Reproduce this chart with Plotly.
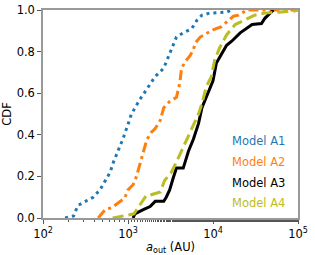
import plotly.graph_objects as go

# Model A1 (log10 a_out, CDF)
a1_log = [2.26, 2.36, 2.41, 2.51, 2.59, 2.67, 2.73, 2.79, 2.83, 2.89, 2.94, 3.00, 3.04, 3.14, 3.22, 3.32,
          3.42, 3.51, 3.57, 3.65, 3.75, 3.81, 3.87, 3.96, 4.16, 4.22]
a1_cdf = [0.0, 0.01, 0.06, 0.08, 0.10, 0.135, 0.175, 0.22, 0.27, 0.33, 0.38, 0.45, 0.50, 0.57, 0.62, 0.68,
          0.72, 0.81, 0.87, 0.89, 0.91, 0.95, 0.975, 0.985, 0.99, 1.0]

a2_log = [2.65, 2.73, 2.81, 2.91, 2.96, 3.00, 3.06, 3.10, 3.14, 3.18, 3.22, 3.27, 3.32, 3.38, 3.42, 3.49,
          3.57, 3.61, 3.63, 3.67, 3.73, 3.77, 3.79, 3.85, 3.93, 4.00, 4.10, 4.18, 4.24, 4.30, 4.40, 5.0]
a2_cdf = [0.0, 0.04, 0.05, 0.08, 0.095, 0.135, 0.16, 0.20, 0.26, 0.32, 0.375, 0.41, 0.43, 0.47, 0.53, 0.56,
          0.58, 0.65, 0.72, 0.75, 0.78, 0.81, 0.84, 0.87, 0.89, 0.905, 0.92, 0.95, 0.97, 0.975, 1.0, 1.0]

a3_log = [3.06, 3.08, 3.18, 3.26, 3.32, 3.42, 3.45, 3.49, 3.53, 3.57, 3.65, 3.71, 3.77, 3.83, 3.87, 3.94,
          4.00, 4.04, 4.10, 4.16, 4.22, 4.32, 4.46, 4.57, 4.61, 4.67, 4.71]
a3_cdf = [0.0, 0.02, 0.04, 0.055, 0.08, 0.08, 0.10, 0.135, 0.19, 0.24, 0.24, 0.32, 0.38, 0.455, 0.53, 0.60,
          0.66, 0.745, 0.79, 0.83, 0.85, 0.89, 0.93, 0.935, 0.96, 0.985, 1.0]

a4_log = [2.82, 3.07, 3.18, 3.22, 3.26, 3.38, 3.43, 3.51, 3.57, 3.65, 3.71, 3.77, 3.83, 3.87, 3.92, 3.98,
          4.02, 4.08, 4.16, 4.26, 4.36, 4.49, 4.61, 4.81, 4.96, 5.0]
a4_cdf = [0.0, 0.02, 0.087, 0.11, 0.11, 0.125, 0.18, 0.22, 0.27, 0.34, 0.39, 0.45, 0.50, 0.55, 0.63, 0.68,
          0.76, 0.82, 0.88, 0.93, 0.95, 0.975, 0.985, 0.99, 0.995, 1.0]

names = ["Model A1", "Model A2", "Model A3", "Model A4"]
colors = ["#1f77b4", "#ff7f0e", "#000000", "#bcbd22"]
dashes = ["3px,4px", "10px,4px,3px,4px", "solid", "11px,5px"]

xtick_vals = [1e2, 1e3, 1e4, 1e5]
xtick_text = ["10<sup>2</sup>", "10<sup>3</sup>", "10<sup>4</sup>", "10<sup>5</sup>"]
ytick_vals = [0.0, 0.2, 0.4, 0.6, 0.8, 1.0]
ytick_text = ["0.0", "0.2", "0.4", "0.6", "0.8", "1.0"]

fig = go.Figure()
for xs, ys, nm, c, d in zip([a1_log, a2_log, a3_log, a4_log], [a1_cdf, a2_cdf, a3_cdf, a4_cdf],
                            names, colors, dashes):
    fig.add_trace(go.Scatter(x=[10 ** v for v in xs], y=ys, mode="lines", name=nm,
                             line=dict(color=c, width=3, dash=d), showlegend=False))

for i, (nm, c) in enumerate(zip(names, colors)):
    fig.add_annotation(text=nm, x=0.955, y=0.37 - i * 0.1, xref="paper", yref="paper",
                       xanchor="right", yanchor="middle", showarrow=False,
                       font=dict(color=c, size=11.5, family="DejaVu Sans"))

fig.update_layout(
    width=315, height=255,
    margin=dict(l=43, r=17, t=10, b=37),
    paper_bgcolor="white", plot_bgcolor="white",
    font=dict(family="DejaVu Sans", size=11.5, color="black"),
    xaxis=dict(type="log", range=[2, 5], tickvals=xtick_vals, ticktext=xtick_text,
               showgrid=False, zeroline=False, showline=True, mirror=True, automargin=False,
               linecolor="#999999", linewidth=1.5, ticks="outside", ticklen=4, tickcolor="#555555",
               minor=dict(ticks="outside", ticklen=2, tickcolor="#555555", showgrid=False),
               title=dict(text="<i>a</i><sub>out</sub> (AU)", font=dict(size=11.5))),
    yaxis=dict(range=[0, 1], tickvals=ytick_vals, ticktext=ytick_text,
               showgrid=False, zeroline=False, showline=True, mirror=True, automargin=False,
               linecolor="#999999", linewidth=1.5, ticks="outside", ticklen=4, tickcolor="#555555",
               title=dict(text="CDF", font=dict(size=11.5))),
)

fig.write_html("out.html", config={"displayModeBar": False},
               post_script="document.body.style.margin='0';")
